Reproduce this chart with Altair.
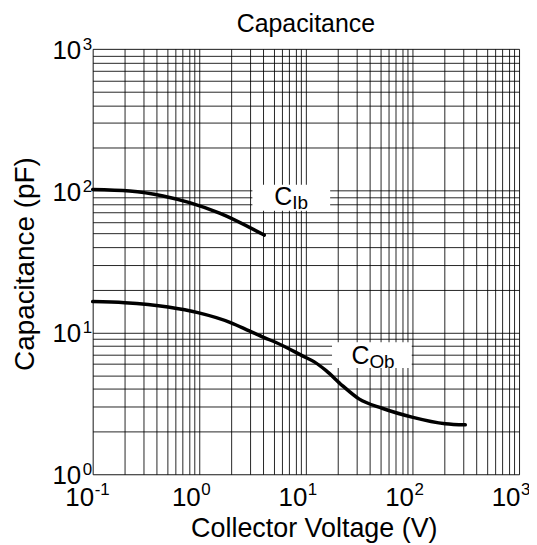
import altair as alt
import pandas as pd

FONT = "Liberation Sans"

# Curve data
cib_v = [0.1, 0.223, 0.457, 0.811, 1.55, 4.07]
cib_c = [102, 99.5, 91.8, 82.4, 69.4, 48.6]
cob_v = [0.1, 0.2, 0.509, 0.97, 1.99, 2.95, 4.07, 5.25, 9.3, 12.0, 15.4, 22.0, 31.5, 52.0, 99, 203, 313]
cob_c = [16.5, 16.2, 15.1, 13.8, 11.7, 10.25, 9.2, 8.49, 6.84, 6.2, 5.4, 4.22, 3.40, 2.92, 2.53, 2.27, 2.23]

# Curve labels (anchor of the "C", subscript text, white box extents)
lab_main = ["C", "C"]
lab_sub = ["Ib", "Ob"]
lab_v = [6.15, 32.5]
lab_c = [79.1, 5.98]
box_v1 = [3.15, 17.6]
box_v2 = [16.9, 98.5]
box_c1 = [72.1, 5.61]
box_c2 = [110, 8.54]

# Axis decades and exponents
x_decades = [0.1, 1, 10, 100, 1000]
x_exps = ["-1", "0", "1", "2", "3"]
y_decades = [1, 10, 100, 1000]
y_exps = ["0", "1", "2", "3"]

title_text = ["Capacitance"]

x_grid = [round(m * 10.0 ** e, 6) for e in range(-1, 3) for m in range(1, 10)] + [1000]
y_grid = [round(m * 10.0 ** e, 6) for e in range(0, 3) for m in range(1, 10)] + [1000]

W, H = 428, 427

xs = alt.Scale(type="log", domain=[0.1, 1000], nice=False)
ys = alt.Scale(type="log", domain=[1, 1000], nice=False)

common_axis = dict(
    grid=True, ticks=False, domain=False,
    gridColor="black", gridWidth=1, gridOpacity=0.85,
    labelFont=FONT, labelFontSize=26, labelColor="black",
    labelOverlap=False, labelFlush=False,
    titleFont=FONT, titleFontWeight="normal", titleColor="black",
    titleBaseline="alphabetic", titleAlign="center",
)

xaxis = alt.Axis(
    values=x_grid,
    labelExpr="indexof([0.1, 1, 10, 100, 1000], datum.value) >= 0 ? '10' : ''",
    labelAlign="right", labelBaseline="alphabetic", labelPadding=31, labelOffset=1,
    title="Collector Voltage (V)", titleFontSize=27, titleX=222, titleY=63,
    **common_axis,
)
yaxis = alt.Axis(
    values=y_grid,
    labelExpr="indexof([1, 10, 100, 1000], datum.value) >= 0 ? '10' : ''",
    labelAlign="right", labelBaseline="alphabetic", labelPadding=12, labelOffset=9.5,
    title="Capacitance (pF)", titleFontSize=28, titleAngle=270, titleX=-59.5, titleY=H / 2 + 2,
    **common_axis,
)


def X(f):
    return alt.X(f, type="quantitative", scale=xs, axis=xaxis)


def Y(f):
    return alt.Y(f, type="quantitative", scale=ys, axis=yaxis)


curves = pd.concat([
    pd.DataFrame({"V": cib_v, "C": cib_c, "s": "Cib"}),
    pd.DataFrame({"V": cob_v, "C": cob_c, "s": "Cob"}),
])
labels = pd.DataFrame({
    "V": lab_v, "C": lab_c, "m": lab_main, "sub": lab_sub,
    "V1": box_v1, "V2": box_v2, "C1": box_c1, "C2": box_c2,
})
xexp = pd.DataFrame({"V": x_decades, "e": x_exps})
yexp = pd.DataFrame({"C": y_decades, "e": y_exps})
tdf = pd.DataFrame({"t": title_text})

boxes = alt.Chart(labels).mark_rect(fill="white").encode(
    x=X("V1"), x2=alt.X2("V2"), y=Y("C1"), y2=alt.Y2("C2")
)

lines = alt.Chart(curves).mark_line(
    color="black", strokeWidth=3.5, interpolate="monotone", strokeCap="round"
).encode(x=X("V"), y=Y("C"), detail="s:N")

main_txt = alt.Chart(labels).mark_text(
    font=FONT, fontSize=25, align="center", baseline="alphabetic", color="black"
).encode(x=X("V"), y=Y("C"), text="m:N")

sub_txt = alt.Chart(labels).mark_text(
    font=FONT, fontSize=19, align="left", baseline="alphabetic", dx=9, dy=4, color="black"
).encode(x=X("V"), y=Y("C"), text="sub:N")

xexp_txt = alt.Chart(xexp).mark_text(
    font=FONT, fontSize=17, align="left", baseline="alphabetic", dx=2, color="black"
).encode(x=X("V"), y=alt.value(H + 21), text="e:N")

yexp_txt = alt.Chart(yexp).mark_text(
    font=FONT, fontSize=17, align="left", baseline="alphabetic", dy=1, color="black"
).encode(x=alt.value(-10), y=Y("C"), text="e:N")

title_txt = alt.Chart(tdf).mark_text(
    font=FONT, fontSize=25, align="center", baseline="alphabetic", color="black"
).encode(x=alt.value(W / 2), y=alt.value(-16.6), text="t:N")

chart = alt.layer(boxes, lines, main_txt, sub_txt, xexp_txt, yexp_txt, title_txt).properties(
    width=W, height=H,
    autosize=alt.AutoSizeParams(type="none"),
    padding={"left": 85, "top": 40, "right": 10, "bottom": 70},
).configure_view(stroke="black", strokeWidth=2.5).configure(background="white")

chart.save("out.html", embed_options={"renderer": "svg", "actions": False})
